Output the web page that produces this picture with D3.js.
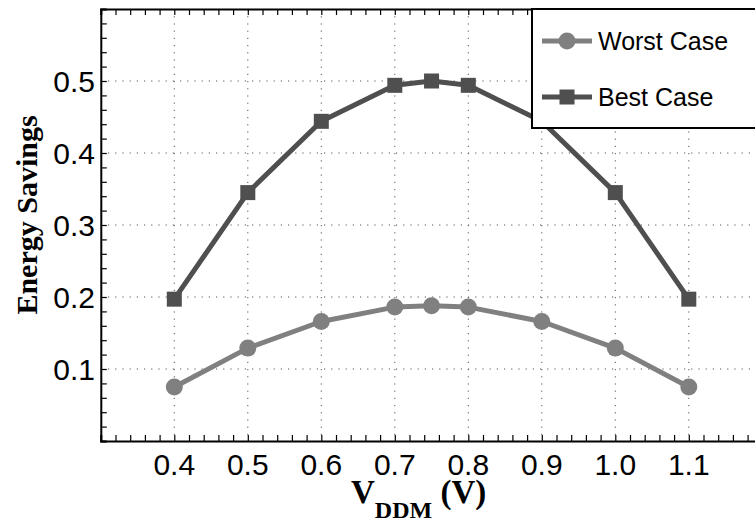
<!DOCTYPE html>
<html>
<head>
<meta charset="utf-8">
<script src="https://cdn.jsdelivr.net/npm/d3@7"></script>
<style>
  html, body { margin: 0; padding: 0; background: #fff; }
  svg { display: block; }
</style>
</head>
<body>
<svg id="chart" width="755" height="523"></svg>
<script>
// ---- data ----
const vdd = [0.4, 0.5, 0.6, 0.7, 0.75, 0.8, 0.9, 1.0, 1.1];
const worstCase = [0.075, 0.129, 0.166, 0.186, 0.188, 0.186, 0.166, 0.129, 0.075];
const bestCase = [0.197, 0.345, 0.444, 0.494, 0.500, 0.494, 0.444, 0.345, 0.197];
const xTickValues = [0.4, 0.5, 0.6, 0.7, 0.8, 0.9, 1.0, 1.1];
const xTickLabels = ["0.4", "0.5", "0.6", "0.7", "0.8", "0.9", "1.0", "1.1"];
const yTickValues = [0.1, 0.2, 0.3, 0.4, 0.5];
const yTickLabels = ["0.1", "0.2", "0.3", "0.4", "0.5"];
const seriesNames = ["Worst Case", "Best Case"];

// ---- layout ----
const svg = d3.select("#chart");
const pLeft = 100.8, pRight = 762.3, pTop = 9, pBottom = 441;
const x = d3.scaleLinear().domain([0.3, 1.2]).range([pLeft, pRight]);
const y = d3.scaleLinear().domain([0, 0.6]).range([pBottom, pTop]);

const worstColor = "#808080";
const bestColor = "#4f4f4f";

// grid
const grid = svg.append("g");
grid.selectAll("line.gx").data(xTickValues.concat([1.2])).enter().append("line")
  .attr("x1", d => x(d)).attr("x2", d => x(d)).attr("y1", pTop).attr("y2", pBottom)
  .attr("stroke", "#555").attr("stroke-width", 1).attr("stroke-dasharray", "1.2,6");
grid.selectAll("line.gy").data(yTickValues).enter().append("line")
  .attr("x1", pLeft).attr("x2", pRight).attr("y1", d => y(d)).attr("y2", d => y(d))
  .attr("stroke", "#555").attr("stroke-width", 1).attr("stroke-dasharray", "1.2,6");

// minor ticks
const xMinor = d3.range(0, 46).map(i => 0.3 + i * 0.02);
const yMinor = d3.range(0, 31).map(i => i * 0.02);
const tickLen = 6;

const axB = d3.axisBottom(x).tickValues(xMinor).tickSize(-tickLen).tickFormat("");
const axT = d3.axisTop(x).tickValues(xMinor).tickSize(-tickLen).tickFormat("");
const axL = d3.axisLeft(y).tickValues(yMinor).tickSize(-tickLen).tickFormat("");

function styleAxis(g) {
  g.selectAll("path.domain").attr("stroke", "#000").attr("stroke-width", 2);
  g.selectAll(".tick line").attr("stroke", "#000").attr("stroke-width", 1.2);
}
svg.append("g").attr("transform", `translate(0,${pBottom})`).call(axB).call(styleAxis);
svg.append("g").attr("transform", `translate(0,${pTop})`).call(axT).call(styleAxis);
svg.append("g").attr("transform", `translate(${pLeft},0)`).call(axL).call(styleAxis);

// tick labels
const labelFont = "'Liberation Sans', Arial, Helvetica, sans-serif";
svg.append("g").selectAll("text").data(xTickValues).enter().append("text")
  .attr("x", d => x(d)).attr("y", 475)
  .attr("text-anchor", "middle")
  .attr("font-family", labelFont).attr("font-size", 30)
  .text((d, i) => xTickLabels[i]);
svg.append("g").selectAll("text").data(yTickValues).enter().append("text")
  .attr("x", 95).attr("y", d => y(d) + 11)
  .attr("text-anchor", "end")
  .attr("font-family", labelFont).attr("font-size", 30)
  .text((d, i) => yTickLabels[i]);

// axis titles
const titleFont = "'Liberation Serif', 'Times New Roman', Times, serif";
svg.append("text")
  .attr("transform", "translate(37,215) rotate(-90)")
  .attr("text-anchor", "middle")
  .attr("font-family", titleFont).attr("font-weight", "bold").attr("font-size", 30)
  .text("Energy Savings");

const xt = svg.append("text")
  .attr("x", 351).attr("y", 503)
  .attr("font-family", titleFont).attr("font-weight", "bold").attr("font-size", 33);
xt.append("tspan").text("V");
xt.append("tspan").attr("dy", 15).attr("font-size", 24).text("DDM");
xt.append("tspan").attr("dy", -15).text(" (V)");

// lines
const line = d3.line().x((d, i) => x(vdd[i])).y(d => y(d));

svg.append("path").datum(worstCase).attr("d", line)
  .attr("fill", "none").attr("stroke", worstColor).attr("stroke-width", 5)
  .attr("stroke-linejoin", "round");
svg.append("g").selectAll("circle").data(worstCase).enter().append("circle")
  .attr("cx", (d, i) => x(vdd[i])).attr("cy", d => y(d)).attr("r", 8.5)
  .attr("fill", worstColor);

svg.append("path").datum(bestCase).attr("d", line)
  .attr("fill", "none").attr("stroke", bestColor).attr("stroke-width", 5)
  .attr("stroke-linejoin", "round");
const sq = 15;
svg.append("g").selectAll("rect").data(bestCase).enter().append("rect")
  .attr("x", (d, i) => x(vdd[i]) - sq / 2).attr("y", d => y(d) - sq / 2)
  .attr("width", sq).attr("height", sq)
  .attr("fill", bestColor);

// legend
const lg = svg.append("g");
lg.append("rect").attr("x", 532).attr("y", 9).attr("width", 240).attr("height", 119)
  .attr("fill", "#fff").attr("stroke", "#000").attr("stroke-width", 2);
const legendRows = [
  { name: seriesNames[0], color: worstColor, shape: "circle", yy: 41 },
  { name: seriesNames[1], color: bestColor, shape: "square", yy: 97 }
];
legendRows.forEach(r => {
  lg.append("line").attr("x1", 542).attr("x2", 592).attr("y1", r.yy).attr("y2", r.yy)
    .attr("stroke", r.color).attr("stroke-width", 5);
  if (r.shape === "circle") {
    lg.append("circle").attr("cx", 567).attr("cy", r.yy).attr("r", 8.5).attr("fill", r.color);
  } else {
    lg.append("rect").attr("x", 567 - sq / 2).attr("y", r.yy - sq / 2)
      .attr("width", sq).attr("height", sq).attr("fill", r.color);
  }
  lg.append("text").attr("x", 598).attr("y", r.yy + 9)
    .attr("font-family", labelFont).attr("font-size", 25)
    .text(r.name);
});
</script>
</body>
</html>
